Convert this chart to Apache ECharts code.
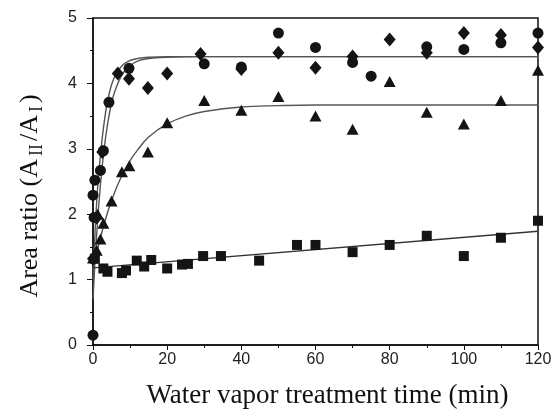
<!DOCTYPE html>
<html>
<head>
<meta charset="utf-8">
<script src="https://cdn.jsdelivr.net/npm/echarts@6/dist/echarts.min.js"></script>
<style>
  html, body { margin: 0; padding: 0; background: #fff; }
  #chart { width: 557px; height: 414px; }
</style>
</head>
<body>
<div id="chart"></div>
<script>
var circleX = [0, 0, 0.3, 0.5, 2, 2.8, 4.3, 9.7, 30, 40, 50, 60, 70, 75, 90, 100, 110, 120]
var circleY = [0.15, 2.29, 1.95, 2.52, 2.67, 2.97, 3.71, 4.23, 4.30, 4.25, 4.77, 4.55, 4.32, 4.11, 4.56, 4.52, 4.62, 4.77]

var diamondX = [0, 1, 2.5, 6.7, 9.7, 14.8, 20, 29, 40, 50, 60, 70, 80, 90, 100, 110, 120]
var diamondY = [1.32, 1.95, 2.95, 4.15, 4.07, 3.93, 4.15, 4.45, 4.22, 4.47, 4.24, 4.41, 4.67, 4.47, 4.77, 4.74, 4.55]

var triangleX = [0, 1, 1.3, 2, 2.8, 5, 7.8, 9.8, 14.8, 20, 30, 40, 50, 60, 70, 80, 90, 100, 110, 120]
var triangleY = [1.33, 1.45, 2.0, 1.62, 1.86, 2.2, 2.65, 2.74, 2.95, 3.40, 3.74, 3.59, 3.80, 3.50, 3.30, 4.03, 3.56, 3.38, 3.74, 4.20]

var squareX = [0.5, 2.8, 3.9, 7.8, 8.9, 11.8, 13.8, 15.7, 20, 24, 25.6, 29.7, 34.5, 44.8, 55, 60, 70, 80, 90, 100, 110, 120]
var squareY = [1.32, 1.17, 1.12, 1.10, 1.14, 1.29, 1.20, 1.30, 1.17, 1.23, 1.24, 1.36, 1.36, 1.29, 1.53, 1.53, 1.42, 1.53, 1.67, 1.36, 1.64, 1.90]

// fitted curves
var fitAX = [0, 1, 2, 3, 4, 5, 6, 8, 10, 12, 15, 20, 30, 120]
var fitAY = [1.0, 2.2, 2.9, 3.4, 3.75, 3.98, 4.12, 4.28, 4.35, 4.38, 4.40, 4.41, 4.41, 4.41]
var fitBX = [0, 1, 2, 3, 4, 5, 6, 8, 10, 12, 15, 20, 30, 120]
var fitBY = [0.7, 1.7, 2.45, 3.0, 3.4, 3.7, 3.9, 4.15, 4.27, 4.34, 4.38, 4.40, 4.41, 4.41]
var fitCX = [0, 2, 4, 6, 8, 10, 12, 15, 20, 25, 30, 40, 50, 60, 120]
var fitCY = [1.15, 1.64, 2.04, 2.36, 2.61, 2.82, 2.98, 3.18, 3.38, 3.50, 3.57, 3.64, 3.66, 3.67, 3.67]
var fitDX = [0, 120]
var fitDY = [1.18, 1.74]

var xTicks = [0, 20, 40, 60, 80, 100, 120]
var yTicks = [0, 1, 2, 3, 4, 5]

function pairs (xs, ys) {
  return xs.map(function (x, i) { return [x, ys[i]] })
}

var chart = echarts.init(document.getElementById('chart'))

function fit (xs, ys, color) {
  return {
    type: 'line',
    data: pairs(xs, ys),
    smooth: 0.4,
    showSymbol: false,
    lineStyle: { color: color, width: 1.4 },
    z: 1,
    silent: true
  }
}

function dots (xs, ys, symbol, size) {
  return {
    type: 'scatter',
    data: pairs(xs, ys),
    symbol: symbol,
    symbolSize: size,
    itemStyle: { color: '#141414', opacity: 1 },
    z: 3
  }
}

chart.setOption({
  animation: false,
  backgroundColor: '#fff',
  grid: {
    left: 93,
    right: 19,
    top: 18,
    bottom: 66,
    show: true,
    borderColor: '#111',
    borderWidth: 1.5
  },
  // y title drawn as text so the subscripts and position can be matched
  graphic: [{
    type: 'text',
    x: 30,
    y: 196,
    rotation: Math.PI / 2,
    style: {
      text: 'Area ratio (A{sub|II}/A{sub|I})',
      fontFamily: 'Liberation Serif',
      fontSize: 26,
      fill: '#111',
      align: 'center',
      verticalAlign: 'middle',
      rich: {
        sub: { fontFamily: 'Liberation Serif', fontSize: 18, fill: '#111', padding: [14, 3, 0, 3] }
      }
    }
  }],
  xAxis: {
    type: 'value',
    min: xTicks[0],
    max: xTicks[xTicks.length - 1],
    interval: 20,
    name: 'Water vapor treatment time (min)',
    nameLocation: 'middle',
    nameGap: 37,
    nameTextStyle: { fontFamily: 'Liberation Serif', fontSize: 27, color: '#111', padding: [0, 0, 0, 24] },
    axisLine: { lineStyle: { color: '#111', width: 1.5 } },
    axisTick: { inside: false, length: 5, lineStyle: { color: '#111' } },
    minorTick: { show: true, splitNumber: 2, length: 3, lineStyle: { color: '#111' } },
    axisLabel: { fontFamily: 'Liberation Sans', fontSize: 16, color: '#222', margin: 7 },
    splitLine: { show: false }
  },
  yAxis: {
    type: 'value',
    min: yTicks[0],
    max: yTicks[yTicks.length - 1],
    interval: 1,
    axisLine: { lineStyle: { color: '#111', width: 1.5 } },
    axisTick: { inside: false, length: 6, lineStyle: { color: '#111' } },
    minorTick: { show: true, splitNumber: 2, length: 3, lineStyle: { color: '#111' } },
    axisLabel: { fontFamily: 'Liberation Sans', fontSize: 16, color: '#222', margin: 16 },
    splitLine: { show: false }
  },
  series: [
    fit(fitAX, fitAY, '#555'),
    fit(fitBX, fitBY, '#555'),
    fit(fitCX, fitCY, '#555'),
    fit(fitDX, fitDY, '#333'),
    dots(circleX, circleY, 'circle', 11),
    dots(diamondX, diamondY, 'diamond', [12, 14]),
    dots(triangleX, triangleY, 'triangle', [12, 11]),
    dots(squareX, squareY, 'rect', 10)
  ]
})
</script>
</body>
</html>
